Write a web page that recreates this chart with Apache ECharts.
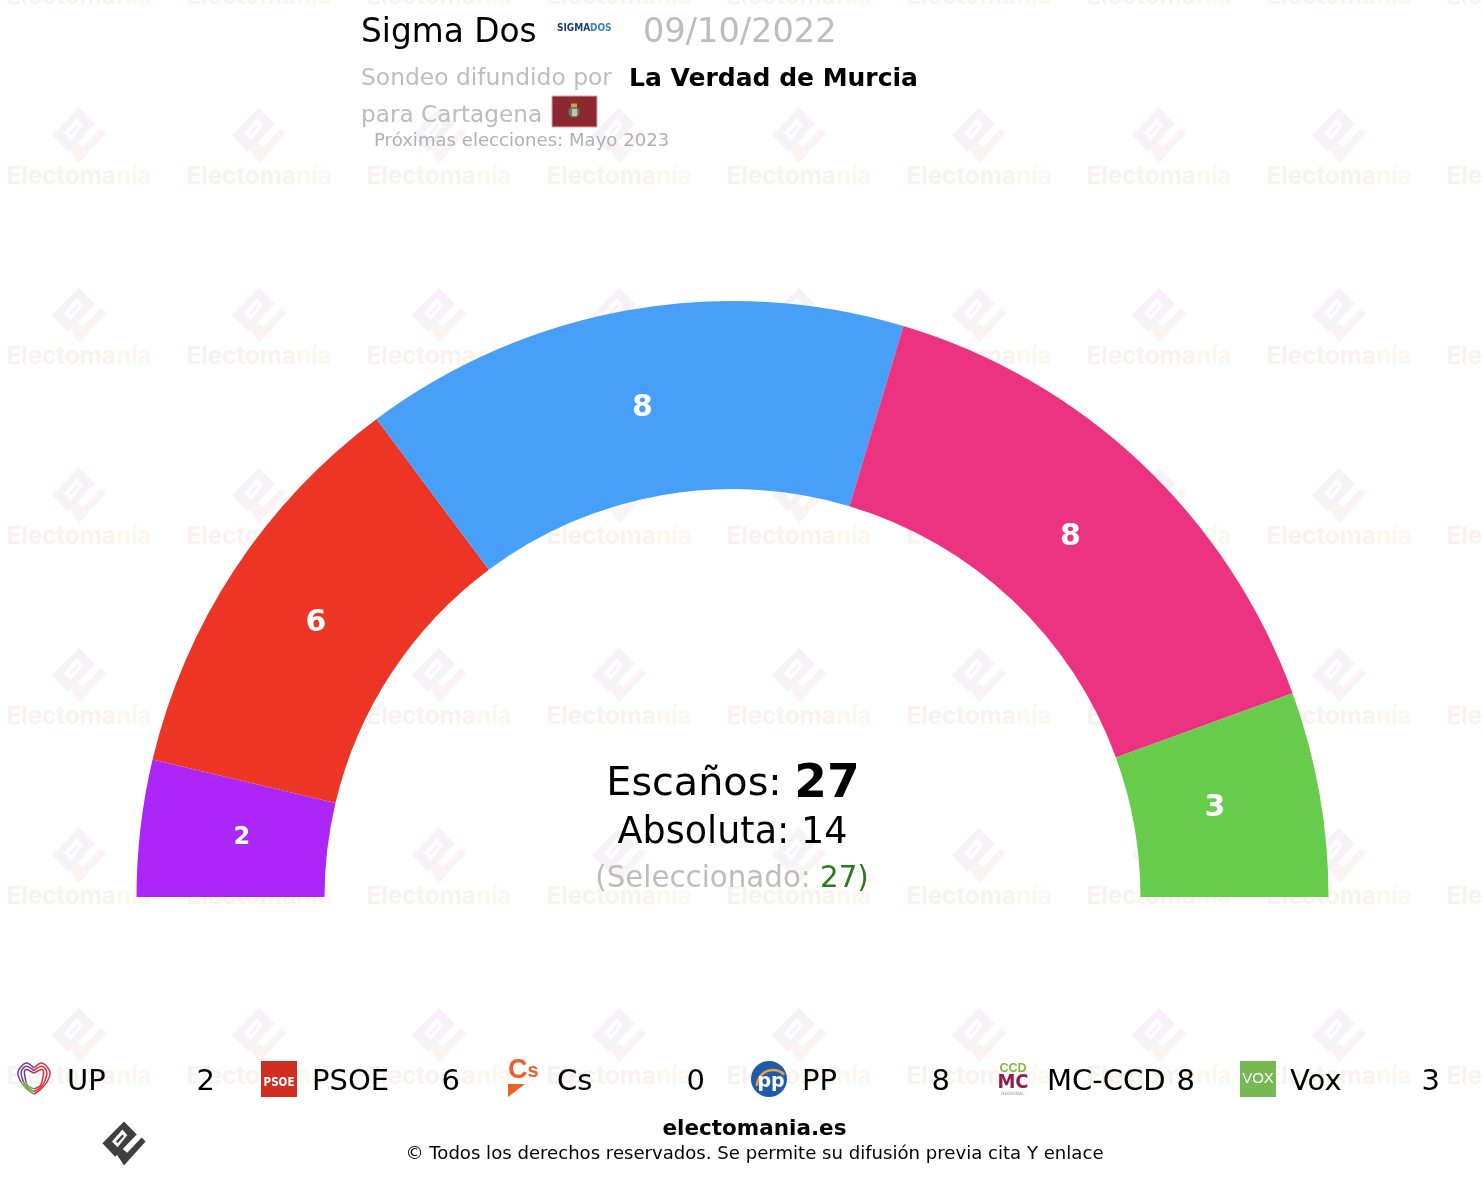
<!DOCTYPE html>
<html><head><meta charset="utf-8">
<style>html,body{margin:0;padding:0;background:#fff}#c{width:1482px;height:1178px}</style>
<script src="https://cdn.jsdelivr.net/npm/echarts@6/dist/echarts.min.js"></script>
</head><body><div id="c"></div>
<script>
const parties = ['UP','PSOE','Cs','PP','MC-CCD','Vox'];
const seats = [2,6,0,8,8,3];
const colors = ['#AD26F8','#EC3524','#F0652B','#489FF8','#EC3381','#67CB4B'];
const labelSizes = [24,30,30,30,30,30];
const labelShiftX = [1,0,0,-4,-1,0];
const labelShiftY = [-2,0,0,0,0,-4];
const labelPull = [10,6.5,0,9,11,15];
const totalSeats = 27, absoluteMajority = 14, selectedSeats = 27;
const FONT = '"DejaVu Sans", sans-serif';
const NARROW = '"DejaVu Sans Condensed", "DejaVu Sans", sans-serif';
const chart = echarts.init(document.getElementById('c'), null, {renderer:'canvas'});
const g = [];
const logoMain = [[0,-28],[16,-12],[-11,16],[-27,-1]];
const logoHole = [[-15,-3],[-2,-18],[4,-11],[-8,4]];
const logoBar = [[-10,-3],[-2,-12],[0,-10],[-8,-1]];
const logoCheck = [[27,-3],[22,-8],[4,11],[-2,6],[-9,13],[0,27]];
function logo(cx,cy,s,fillA,fillB,holeFill,z){
  const pts=a=>a.map(p=>[cx+p[0]*s,cy+p[1]*s]);
  g.push({type:'polygon',z,shape:{points:pts(logoMain)},style:{fill:fillA}});
  g.push({type:'polygon',z,shape:{points:pts(logoHole)},style:{fill:holeFill}});
  g.push({type:'polygon',z,shape:{points:pts(logoBar)},style:{fill:fillA}});
  g.push({type:'polygon',z,shape:{points:pts(logoCheck)},style:{fill:fillB}});
}
function txt(x,y,text,size,fill,opt){
  g.push({type:'text',x,y,z:(opt&&opt.z)||10,style:{text,fill,font:(opt&&opt.weight||'normal')+' '+size+'px '+((opt&&opt.family)||FONT),textAlign:(opt&&opt.align)||'left',textVerticalAlign:'middle'}});
}
// watermark tiles
const wmFont='bold 24.2px Inter, "DejaVu Sans", sans-serif';
for(let i=0;i<9;i++){
  for(let j=-1;j<6;j++){
    const x=79+180*i,y=176+180*j;
    logo(x,y-40,1,'#F6F2F8','#FBF4F3','#FFFFFF',0);
    g.push({type:'text',x,y:y+1,z:0,style:{text:'{a|Elec}{b|toma}{c|nía}',textAlign:'center',textVerticalAlign:'middle',rich:{a:{font:wmFont,fill:'#FBF1F0'},b:{font:wmFont,fill:'#FCF2EE'},c:{font:wmFont,fill:'#FEF7EE'}}}});
  }
}
// header
txt(361,33,'Sigma Dos',32.8,'#000');
txt(557,28,'SIGMA',10,'#1B3F7C',{weight:'bold',family:NARROW});
txt(590,28,'DOS',10,'#3C86AE',{weight:'bold',family:NARROW});
txt(643,33,'09/10/2022',33.6,'#BDBDBD');
txt(361,79,'Sondeo difundido por',23.4,'#BDBDBD');
txt(629,79,'La Verdad de Murcia',25,'#000',{weight:'bold'});
txt(361,116,'para Cartagena',23.2,'#BDBDBD');
g.push({type:'rect',z:10,shape:{x:552,y:96,width:45,height:31},style:{fill:'#8D2830',stroke:'#D9A5A8',lineWidth:1}});
g.push({type:'circle',z:10,shape:{cx:574,cy:112,r:5.5},style:{fill:'#4F8C6A'}});
g.push({type:'rect',z:10,shape:{x:572,y:109,width:5,height:7},style:{fill:'#D8B9B0'}});
g.push({type:'rect',z:10,shape:{x:571,y:103.5,width:6,height:3.5},style:{fill:'#C9A24A'}});
txt(374,141,'Próximas elecciones: Mayo 2023',18.1,'#B0B0B0');
// center
g.push({type:'text',x:733,y:785,z:10,style:{text:'{a|Escaños: }{b|'+totalSeats+'}',textAlign:'center',textVerticalAlign:'middle',rich:{a:{font:'normal 39.7px '+FONT,fill:'#000'},b:{font:'bold 47px '+FONT,fill:'#000'}}}});
txt(732.5,834,'Absoluta: '+absoluteMajority,36.5,'#000',{align:'center'});
g.push({type:'text',x:732,y:879,z:10,style:{text:'{a|(Seleccionado: }{b|'+selectedSeats+'}{c|)}',textAlign:'center',textVerticalAlign:'middle',rich:{a:{font:'normal 29.3px '+FONT,fill:'#BDBDBD'},b:{font:'normal 29.3px '+FONT,fill:'#2B7A1E'},c:{font:'normal 29.3px '+FONT,fill:'#2B7A1E'}}}});
// legend
const legendX=[16,261,506,751,996,1240];
parties.forEach((p,i)=>{
  const x=legendX[i];
  txt(x+(i===5?50:51),1082,p,29,'#000');
  txt(x+(i===5?200:199),1082,String(seats[i]),29,'#000',{align:'right'});
});
// UP heart: concentric contours, purple left, red right, green lower left
[0,3.2,6.4].forEach(k=>{
  const cx=34;
  g.push({type:'polyline',z:10,shape:{smooth:0.35,points:[[cx,1068+k*0.8],[cx-8,1063+k],[cx-16+k,1072],[cx-13+k*0.8,1082]]},style:{fill:'none',stroke:'#7A3B94',lineWidth:1.5}});
  g.push({type:'polyline',z:10,shape:{smooth:0.35,points:[[cx-13+k*0.8,1082],[cx-6,1090-k*0.6],[cx,1094-k*0.8]]},style:{fill:'none',stroke:'#6FA24A',lineWidth:1.5}});
  g.push({type:'polyline',z:10,shape:{smooth:0.35,points:[[cx,1068+k*0.8],[cx+8,1063+k],[cx+16-k,1072],[cx+13-k*0.8,1082],[cx+6,1090-k*0.6],[cx,1094-k*0.8]]},style:{fill:'none',stroke:'#D8333F',lineWidth:1.5}});
});
g.push({type:'rect',z:10,shape:{x:261,y:1061,width:36,height:36},style:{fill:'#D12D22'}});
txt(279,1083,'PSOE',11.5,'#fff',{weight:'bold',align:'center',family:NARROW});
g.push({type:'text',x:508,y:1071,z:10,style:{text:'{a|C}{b|s}',textAlign:'left',textVerticalAlign:'middle',rich:{a:{font:'bold 27px "Liberation Sans", sans-serif',fill:'#EE5F2A'},b:{font:'bold 20px "Liberation Sans", sans-serif',fill:'#EE5F2A'}}}});
g.push({type:'polygon',z:10,shape:{points:[[508,1084],[525,1084],[508,1097]]},style:{fill:'#EE5F2A'}});
g.push({type:'circle',z:10,shape:{cx:769,cy:1079,r:18},style:{fill:'#1F5BA8'}});
g.push({type:'arc',z:10,shape:{cx:773,cy:1086,r:16,startAngle:Math.PI*1.0,endAngle:Math.PI*1.75},style:{fill:'none',stroke:'#E8A33D',lineWidth:2.5}});
txt(771,1082,'pp',19,'#fff',{weight:'bold',align:'center'});
txt(1013,1069,'CCD',12.5,'#84BD3A',{weight:'bold',align:'center',family:'"Liberation Sans", sans-serif'});
txt(1013,1083,'MC',20,'#8E1D52',{weight:'bold',align:'center',family:NARROW});
txt(1013,1094,'REGIONAL',4.5,'#999',{align:'center'});
g.push({type:'rect',z:10,shape:{x:1240,y:1061,width:36,height:36},style:{fill:'#76B852'}});
txt(1258,1079,'VOX',15,'#fff',{align:'center',family:'"Liberation Sans", sans-serif'});
// footer
logo(124,1144,0.8,'#3F3F3F','#3F3F3F','#FFFFFF',10);
txt(754.5,1129,'electomania.es',21.5,'#000',{weight:'bold',align:'center'});
txt(754.5,1154,'© Todos los derechos reservados. Se permite su difusión previa cita Y enlace',18.1,'#000',{align:'center'});

const centerX=732.5, centerY=897;
chart.setOption({
  animation:false,
  backgroundColor:'#fff',
  graphic:{elements:g},
  series:[{
    type:'pie',
    center:[centerX,centerY],
    radius:[408,596],
    startAngle:180,
    endAngle:0,
    silent:true,
    z:2,
    label:{show:true,position:'inside',color:'#fff',fontWeight:'bold',fontFamily:FONT,formatter:'{c}'},
    labelLine:{show:false},
    labelLayout:p=>{
      const r=p.labelRect, x=r.x+r.width/2-centerX, y=r.y+r.height/2-centerY, d=Math.hypot(x,y), k=labelPull[p.dataIndex]/d;
      return {dx:-x*k+labelShiftX[p.dataIndex],dy:-y*k+labelShiftY[p.dataIndex]};
    },
    itemStyle:{borderWidth:0},
    data:parties.map((name,i)=>({
      name,value:seats[i],
      itemStyle:{color:colors[i]},
      label:{show:seats[i]>0,fontSize:labelSizes[i]}
    }))
  }]
});
</script></body></html>
